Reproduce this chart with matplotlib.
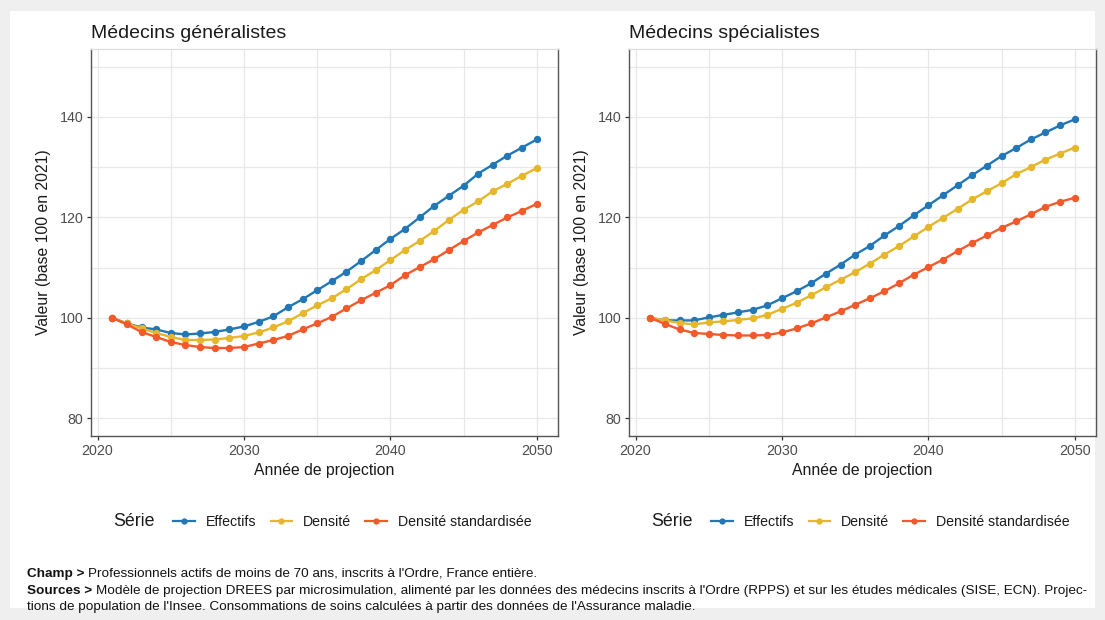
import matplotlib
matplotlib.use("Agg")
import matplotlib.pyplot as plt
from matplotlib.lines import Line2D
from matplotlib.patches import Rectangle

plt.rcParams['font.family'] = ['Liberation Sans', 'DejaVu Sans']

years = list(range(2021, 2051))

gen_effectifs = [100, 98.9, 98.1, 97.7, 97.0, 96.7, 96.9, 97.2, 97.7, 98.3,
                 99.2, 100.3, 102.1, 103.7, 105.5, 107.3, 109.2, 111.3, 113.5, 115.7,
                 117.7, 120.0, 122.3, 124.3, 126.3, 128.7, 130.5, 132.3, 133.9, 135.5]
gen_densite = [100, 98.9, 97.9, 97.0, 96.2, 95.6, 95.6, 95.7, 96.0, 96.4,
               97.1, 98.1, 99.3, 100.9, 102.5, 103.9, 105.7, 107.7, 109.5, 111.5,
               113.5, 115.3, 117.3, 119.5, 121.5, 123.2, 125.2, 126.7, 128.3, 129.8]
gen_dens_std = [100, 98.7, 97.2, 96.2, 95.2, 94.6, 94.2, 94.0, 94.0, 94.2,
                94.9, 95.6, 96.4, 97.7, 98.9, 100.2, 101.9, 103.5, 105.0, 106.5,
                108.5, 110.1, 111.7, 113.5, 115.3, 117.0, 118.5, 120.0, 121.3, 122.7]

spe_effectifs = [100, 99.5, 99.5, 99.5, 100.1, 100.6, 101.1, 101.6, 102.5, 103.9,
                 105.3, 106.9, 108.8, 110.6, 112.6, 114.3, 116.4, 118.3, 120.4, 122.4,
                 124.4, 126.4, 128.4, 130.3, 132.2, 133.8, 135.5, 136.9, 138.3, 139.5]
spe_densite = [100, 99.5, 99.0, 98.7, 99.1, 99.3, 99.6, 99.9, 100.6, 101.8,
               103.0, 104.5, 106.1, 107.6, 109.1, 110.8, 112.6, 114.3, 116.2, 118.1,
               119.9, 121.7, 123.6, 125.2, 126.8, 128.6, 130.0, 131.5, 132.7, 133.9]
spe_dens_std = [100, 98.8, 97.7, 97.0, 96.8, 96.6, 96.5, 96.5, 96.6, 97.1,
                97.9, 98.9, 100.1, 101.3, 102.6, 103.9, 105.3, 106.9, 108.6, 110.1,
                111.6, 113.3, 114.9, 116.4, 117.9, 119.2, 120.6, 122.1, 123.1, 123.9]

series_labels = ["Effectifs", "Densité", "Densité standardisée"]
series_colors = ["#2277b6", "#e6b72b", "#f25a2b"]
panel_titles = ["Médecins généralistes", "Médecins spécialistes"]
x_ticks = [2020, 2030, 2040, 2050]
y_ticks = [80, 100, 120, 140]
x_minor = [2025, 2035, 2045]
y_minor = [90, 110, 130, 150]

W, H = 1105, 620
fig = plt.figure(figsize=(W / 100, H / 100), dpi=100)
fig.patch.set_facecolor("#efefef")
fig.add_artist(Rectangle((10 / W, 12 / H), 1085 / W, 597 / H, transform=fig.transFigure,
                         facecolor="white", edgecolor="none", zorder=0))

panels = [
    (91, [gen_effectifs, gen_densite, gen_dens_std]),
    (629, [spe_effectifs, spe_densite, spe_dens_std]),
]

for i, (left_px, data) in enumerate(panels):
    ax = fig.add_axes([left_px / W, (H - 436) / H, 467 / W, 387 / H])
    ax.set_facecolor("white")
    for vals, col in zip(data, series_colors):
        ax.plot(years, vals, color=col, lw=1.7, marker="o", ms=4.3, zorder=3)
    ax.set_xlim(2019.55, 2051.45)
    ax.set_ylim(76.5, 153.5)
    ax.set_xticks(x_ticks)
    ax.set_yticks(y_ticks)
    ax.set_xticks(x_minor, minor=True)
    ax.set_yticks(y_minor, minor=True)
    ax.grid(True, which="both", color="#e8e8e8", lw=0.9, zorder=0)
    ax.set_axisbelow(True)
    ax.tick_params(which="major", length=3, width=0.9, color="#333333",
                   labelsize=10.3, labelcolor="#4d4d4d", pad=2.5)
    ax.tick_params(which="minor", length=0)
    for s in ["left", "bottom", "right"]:
        ax.spines[s].set_color("#555555")
        ax.spines[s].set_linewidth(1.0)
    ax.spines["top"].set_color("#dcdcdc")
    ax.spines["top"].set_linewidth(0.9)
    ax.set_title(panel_titles[i], loc="left", fontsize=14, color="#1a1a1a", pad=8)
    ax.set_xlabel("Année de projection", fontsize=11.3, color="#1a1a1a", labelpad=4)
    ax.set_ylabel("Valeur (base 100 en 2021)", fontsize=11.3, color="#1a1a1a", labelpad=6)

    handles = [Line2D([0], [0], color=c, lw=1.6, marker="o", ms=3.5) for c in series_colors]
    leg = ax.legend(handles, series_labels, ncol=3, loc="center",
                    bbox_to_anchor=(0.56, -0.222), frameon=False, fontsize=10.2,
                    handlelength=1.5, handletextpad=0.8, columnspacing=1.0)
    for t in leg.get_texts():
        t.set_color("#1a1a1a")
    ax.text(0.047, -0.222, "Série", transform=ax.transAxes, fontsize=12.8,
            ha="left", va="center", color="#1a1a1a")

# Footer notes
renderer = fig.canvas.get_renderer()
foot_family = ['Liberation Sans', 'DejaVu Sans']
foot_size = 9.7
foot_lines = [
    (574, "Champ > ", "Professionnels actifs de moins de 70 ans, inscrits à l'Ordre, France entière."),
    (591, "Sources > ", "Modèle de projection DREES par microsimulation, alimenté par les données des médecins inscrits à l'Ordre (RPPS) et sur les études médicales (SISE, ECN). Projec-"),
    (607, "", "tions de population de l'Insee. Consommations de soins calculées à partir des données de l'Assurance maladie."),
]
for y_px, bold_part, rest in foot_lines:
    x0 = 27 / W
    y0 = (H - y_px) / H
    if bold_part:
        tb = fig.text(x0, y0, bold_part, fontsize=foot_size, fontweight="bold",
                      family=foot_family, va="center", ha="left", color="#111111")
        bb = tb.get_window_extent(renderer=renderer)
        x0 = bb.x1 / W
    fig.text(x0, y0, rest, fontsize=foot_size, family=foot_family, va="center",
             ha="left", color="#111111")

fig.savefig("out.png", dpi=100, facecolor=fig.get_facecolor())
